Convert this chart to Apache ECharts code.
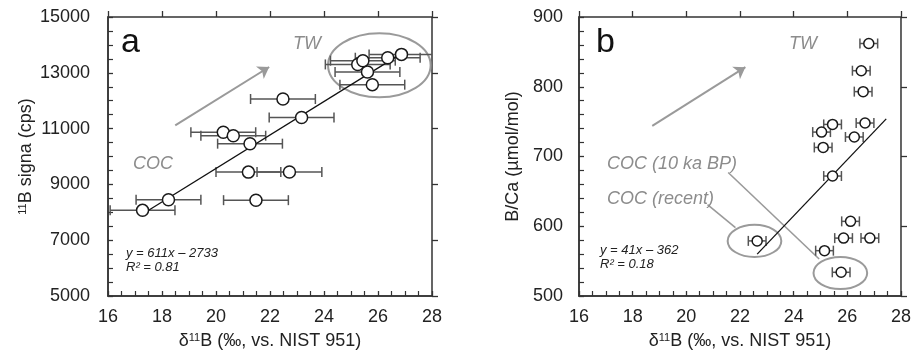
<!DOCTYPE html>
<html>
<head>
<meta charset="utf-8">
<script src="https://cdn.jsdelivr.net/npm/echarts@6/dist/echarts.min.js"></script>
<style>html,body{margin:0;padding:0;background:#fff}#c{width:914px;height:358px}</style>
</head>
<body>
<div id="c"></div>
<script>
// ---------- Panel a data ----------
const aX = [17.28, 18.24, 20.27, 20.64, 21.26, 21.20, 22.72, 21.48, 22.48, 23.17, 25.25, 25.44, 25.61, 25.79, 26.36, 26.87];
const aY = [8070, 8450, 10870, 10745, 10460, 9440, 9445, 8435, 12060, 11400, 13300, 13435, 13030, 12575, 13540, 13660];
const aErr = [1.2, 1.2, 1.2, 1.2, 1.2, 1.2, 1.2, 1.2, 1.2, 1.2, 1.2, 1.2, 1.2, 1.2, 1.2, 1.2];
const aFitX = [17.43, 26.8];
const aFitY = [8030, 13650];
const aArrowX = [18.49, 21.97];
const aArrowY = [11117, 13208];
const aEllipse = [26.05, 13270, 1.9, 1150]; // cx, cy, rx, ry (data units)

// ---------- Panel b data ----------
const bX = [26.80, 26.52, 26.59, 25.45, 26.66, 25.04, 26.26, 25.10, 25.45, 26.12, 25.86, 26.84, 22.64, 25.15, 25.77];
const bY = [862, 823, 793, 746, 748, 735, 728, 713, 672, 607, 583, 583, 579, 565, 534];
const bErr = [0.33, 0.33, 0.33, 0.33, 0.33, 0.33, 0.33, 0.33, 0.33, 0.33, 0.33, 0.33, 0.33, 0.33, 0.33];
const bFitX = [22.64, 27.45];
const bFitY = [560, 754];
const bArrowX = [18.73, 22.2];
const bArrowY = [744, 828];
const bEllipses = [[22.54, 579, 1.0, 23], [25.74, 533, 1.0, 23]];
const bConnectors = [[[21.56, 677], [24.95, 553]], [[20.79, 631], [21.83, 598]]];

// ---------- Axis ticks ----------
const xTicks = {min: 16, max: 28, interval: 2};
const aYTicks = {min: 5000, max: 15000, interval: 2000};
const bYTicks = {min: 500, max: 900, interval: 100};

const FONT = 'Liberation Sans, Arial, sans-serif';
const AX = '#333';
const GRAY = '#9a9a9a';

function mainAxis(gridIndex, t, minorSplit, extra) {
  return Object.assign({
    type: 'value', gridIndex: gridIndex, min: t.min, max: t.max, interval: t.interval,
    axisLine: {show: true, onZero: false, lineStyle: {color: AX, width: 1.5}},
    axisTick: {show: true, inside: true, length: 5, lineStyle: {color: AX, width: 1.3}},
    minorTick: {show: true, splitNumber: minorSplit, length: 5, lineStyle: {color: AX, width: 1.2}},
    splitLine: {show: false},
    axisLabel: {fontSize: 18, color: '#222', fontFamily: FONT, formatter: v => String(v)}
  }, extra || {});
}
function tickAxis(gridIndex, t) {
  return {
    type: 'value', gridIndex: gridIndex, min: t.min, max: t.max, interval: t.interval,
    axisLine: {show: false, onZero: false},
    axisTick: {show: true, inside: false, length: 6, lineStyle: {color: AX, width: 1.3}},
    axisLabel: {show: false}, splitLine: {show: false}
  };
}
const nameRich = {
  n: {fontSize: 18, color: '#222', fontFamily: FONT, verticalAlign: 'bottom'},
  s: {fontSize: 11, color: '#222', fontFamily: FONT, verticalAlign: 'bottom', padding: [0, 0, 7, 0]}
};
const xName = '{n|δ}{s|11}{n|B (‰, vs. NIST 951)}';

function errSeries(xi, yi, xs, ys, es, cap, xmax) {
  return {
    type: 'custom', xAxisIndex: xi, yAxisIndex: yi, z: 3,
    data: xs.map((x, i) => [x, ys[i], es[i]]),
    renderItem: function (params, api) {
      const x = api.value(0), y = api.value(1), e = api.value(2);
      const lo = x - e, hi = Math.min(x + e, xmax);
      const p0 = api.coord([lo, y]), p1 = api.coord([hi, y]);
      const st = {stroke: '#555', lineWidth: 1.5};
      const ch = [
        {type: 'line', shape: {x1: p0[0], y1: p0[1], x2: p1[0], y2: p1[1]}, style: st},
        {type: 'line', shape: {x1: p0[0], y1: p0[1] - cap, x2: p0[0], y2: p0[1] + cap}, style: st}
      ];
      if (x + e <= xmax) ch.push({type: 'line', shape: {x1: p1[0], y1: p1[1] - cap, x2: p1[0], y2: p1[1] + cap}, style: st});
      return {type: 'group', children: ch};
    }
  };
}
function ellipseSeries(xi, yi, list) {
  return {
    type: 'custom', xAxisIndex: xi, yAxisIndex: yi, z: 2,
    data: list,
    renderItem: function (params, api) {
      const c = api.coord([api.value(0), api.value(1)]);
      const s = api.size([api.value(2), api.value(3)]);
      return {type: 'ellipse', shape: {cx: c[0], cy: c[1], rx: s[0], ry: s[1]},
        style: {fill: 'none', stroke: GRAY, lineWidth: 2}};
    }
  };
}
function arrowSeries(xi, yi, xs, ys) {
  return {
    type: 'lines', coordinateSystem: 'cartesian2d', xAxisIndex: xi, yAxisIndex: yi, z: 2,
    symbol: ['none', 'arrow'], symbolSize: 11,
    lineStyle: {color: GRAY, width: 2, opacity: 1, curveness: 0},
    data: [{coords: [[xs[0], ys[0]], [xs[1], ys[1]]]}]
  };
}
function fitSeries(xi, yi, xs, ys) {
  return {
    type: 'line', xAxisIndex: xi, yAxisIndex: yi, z: 4, symbol: 'none', silent: true,
    lineStyle: {color: '#111', width: 1.3},
    data: xs.map((x, i) => [x, ys[i]])
  };
}
function pointSeries(xi, yi, xs, ys, size) {
  return {
    type: 'scatter', xAxisIndex: xi, yAxisIndex: yi, z: 5, symbol: 'circle', symbolSize: size,
    itemStyle: {color: '#fff', borderColor: '#1a1a1a', borderWidth: 1.5, opacity: 1},
    data: xs.map((x, i) => [x, ys[i]])
  };
}

function txt(left, midY, text, size, color, italic, extra) {
  return Object.assign({
    type: 'text', left: left, top: midY - size * 0.6, z: 10,
    style: {text: text, fontSize: size, fill: color, fontFamily: FONT, fontStyle: italic ? 'italic' : 'normal'}
  }, extra || {});
}

const chart = echarts.init(document.getElementById('c'), null, {renderer: 'canvas'});
chart.setOption({
  animation: false,
  backgroundColor: '#fff',
  grid: [
    {left: 108, top: 17, width: 324, height: 279, show: true, borderColor: AX, borderWidth: 1.5, backgroundColor: 'transparent'},
    {left: 579, top: 17, width: 325, height: 279, show: true, borderColor: AX, borderWidth: 1.5, backgroundColor: 'transparent'}
  ],
  xAxis: [
    mainAxis(0, xTicks, 4, {name: xName, nameLocation: 'middle', nameGap: 36, nameTextStyle: {rich: nameRich}, axisLabel: {fontSize: 18, color: '#222', fontFamily: FONT, margin: 12}}),
    mainAxis(1, xTicks, 4, {name: xName, nameLocation: 'middle', nameGap: 36, nameTextStyle: {rich: nameRich}, axisLabel: {fontSize: 18, color: '#222', fontFamily: FONT, margin: 12}}),
    tickAxis(0, xTicks),
    tickAxis(1, xTicks)
  ],
  yAxis: [
    mainAxis(0, aYTicks, 4, {name: '{s|11}{n|B signa (cps)}', nameLocation: 'middle', nameGap: 73, nameTextStyle: {rich: nameRich},
      axisLabel: {fontSize: 18, color: '#222', fontFamily: FONT, margin: 18, formatter: v => String(v)}}),
    mainAxis(1, bYTicks, 5, {name: '{n|B/Ca (µmol/mol)}', nameLocation: 'middle', nameGap: 57, nameTextStyle: {rich: nameRich},
      axisLabel: {fontSize: 18, color: '#222', fontFamily: FONT, margin: 16, formatter: v => String(v)}}),
    tickAxis(0, aYTicks),
    tickAxis(1, bYTicks)
  ],
  graphic: [
    txt(121, 46, 'a', 34, '#111', false),
    txt(293, 46, 'TW', 18, '#8c8c8c', true),
    txt(133, 166, 'COC', 18, '#8c8c8c', true),
    txt(126, 255, 'y = 611x – 2733', 13, '#222', true),
    txt(126, 269, 'R² = 0.81', 13, '#222', true),
    txt(596, 46, 'b', 34, '#111', false),
    txt(789, 46, 'TW', 18, '#8c8c8c', true),
    txt(607, 166, 'COC (10 ka BP)', 18, '#8c8c8c', true),
    txt(607, 201, 'COC (recent)', 18, '#8c8c8c', true),
    txt(600, 252, 'y = 41x – 362', 13, '#222', true),
    txt(600, 266, 'R² = 0.18', 13, '#222', true)
  ],
  series: [
    ellipseSeries(0, 0, [aEllipse]),
    arrowSeries(0, 0, aArrowX, aArrowY),
    errSeries(0, 0, aX, aY, aErr, 5, 28),
    fitSeries(0, 0, aFitX, aFitY),
    pointSeries(0, 0, aX, aY, 12),

    ellipseSeries(1, 1, bEllipses),
    arrowSeries(1, 1, bArrowX, bArrowY),
    {
      type: 'lines', coordinateSystem: 'cartesian2d', xAxisIndex: 1, yAxisIndex: 1, z: 2,
      symbol: 'none', lineStyle: {color: GRAY, width: 1.6, opacity: 1, curveness: 0},
      data: bConnectors.map(c => ({coords: c}))
    },
    errSeries(1, 1, bX, bY, bErr, 5, 28),
    fitSeries(1, 1, bFitX, bFitY),
    pointSeries(1, 1, bX, bY, 10)
  ]
});
</script>
</body>
</html>
